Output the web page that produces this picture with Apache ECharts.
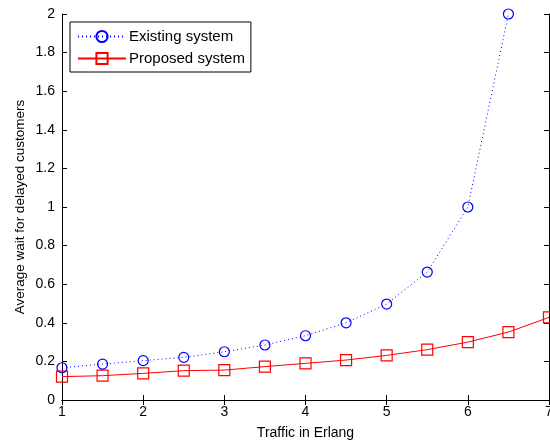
<!DOCTYPE html>
<html>
<head>
<meta charset="utf-8">
<script src="https://cdn.jsdelivr.net/npm/echarts@6/dist/echarts.min.js"></script>
<style>
html, body { margin: 0; padding: 0; background: #fff; }
#chart { width: 550px; height: 441px; }
</style>
</head>
<body>
<div id="chart"></div>
<script>
// traffic (Erlang) values on the x axis
const traffic = [1, 1.5, 2, 2.5, 3, 3.5, 4, 4.5, 5, 5.5, 6, 6.5, 7]
// average wait
const existing = [0.167, 0.186, 0.204, 0.221, 0.25, 0.285, 0.333, 0.40, 0.497, 0.663, 1.0, 2.0]
const proposed = [0.121, 0.126, 0.138, 0.152, 0.155, 0.173, 0.19, 0.207, 0.231, 0.261, 0.30, 0.352, 0.428]

const font = 'Liberation Sans, Arial, Helvetica, sans-serif'
const pairs = (ys) => ys.map((y, i) => [traffic[i], y])

const tickStyle = { show: true, inside: true, length: 5, lineStyle: { color: '#000', width: 1 } }
const lineStyle = { show: true, lineStyle: { color: '#000', width: 1 } }

let myChart = echarts.init(document.getElementById('chart'))
myChart.setOption({
    animation: false,
    backgroundColor: '#fff',
    textStyle: { fontFamily: font },
    grid: { left: 62, right: 1, top: 14, bottom: 41, containLabel: false, outerBoundsMode: 'none' },
    legend: {
        left: 70,
        top: 22,
        orient: 'vertical',
        backgroundColor: '#fff',
        borderColor: '#000',
        borderWidth: 1,
        borderRadius: 0,
        padding: [7, 6, 6, 7],
        itemGap: 7,
        itemWidth: 48,
        itemHeight: 14,
        textStyle: { fontFamily: font, fontSize: 15, color: '#000', padding: [0, 0, 0, -2] },
        data: ['Existing system', 'Proposed system']
    },
    xAxis: [
        {
            type: 'value',
            min: 1, max: 7, interval: 1,
            name: 'Traffic in Erlang',
            nameLocation: 'middle',
            nameGap: 26,
            nameMoveOverlap: false,
            nameTextStyle: { fontSize: 14, color: '#000', fontFamily: font },
            axisLine: lineStyle,
            axisTick: tickStyle,
            axisLabel: { fontSize: 14, color: '#000', margin: 5, fontFamily: font },
            splitLine: { show: false }
        },
        {
            type: 'value',
            position: 'top',
            min: 1, max: 7, interval: 1,
            axisLine: lineStyle,
            axisTick: tickStyle,
            axisLabel: { show: false },
            splitLine: { show: false }
        }
    ],
    yAxis: [
        {
            type: 'value',
            min: 0, max: 2, interval: 0.2,
            name: 'Average wait for delayed customers',
            nameLocation: 'middle',
            nameGap: 35,
            nameMoveOverlap: false,
            nameTextStyle: { fontSize: 13.5, color: '#000', fontFamily: font },
            axisLine: lineStyle,
            axisTick: tickStyle,
            axisLabel: {
                fontSize: 14, color: '#000', margin: 7, fontFamily: font,
                formatter: (v) => String(Math.round(v * 10) / 10)
            },
            splitLine: { show: false }
        },
        {
            type: 'value',
            position: 'right',
            min: 0, max: 2, interval: 0.2,
            axisLine: lineStyle,
            axisTick: tickStyle,
            axisLabel: { show: false },
            splitLine: { show: false }
        }
    ],
    series: [
        {
            name: 'Existing system',
            type: 'line',
            data: pairs(existing),
            symbol: 'circle',
            symbolSize: 10,
            lineStyle: { color: '#0000ff', width: 1, type: [1, 3] },
            itemStyle: { color: 'rgba(255,255,255,0)', borderColor: '#0000ff', borderWidth: 1.2 },
            emphasis: { disabled: true },
            z: 3
        },
        {
            name: 'Proposed system',
            type: 'line',
            data: pairs(proposed),
            symbol: 'rect',
            symbolSize: 11,
            lineStyle: { color: '#ff0000', width: 1 },
            itemStyle: { color: 'rgba(255,255,255,0)', borderColor: '#ff0000', borderWidth: 1.2 },
            emphasis: { disabled: true },
            z: 2
        }
    ]
})
</script>
</body>
</html>
